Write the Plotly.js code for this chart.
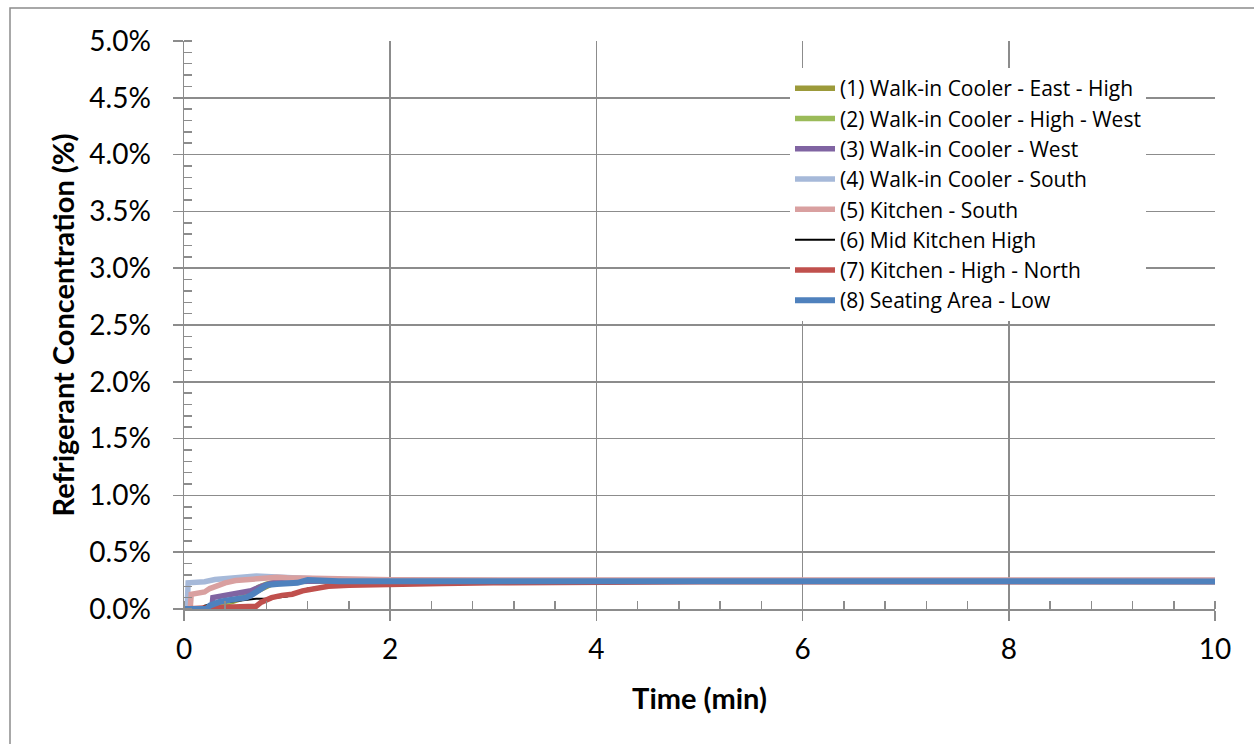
<!DOCTYPE html>
<html>
<head>
<meta charset="utf-8">
<script src="https://cdn.plot.ly/plotly-3.0.1.min.js"></script>
<style>
  html, body { margin: 0; padding: 0; background: #ffffff; }
  #chart { width: 1254px; height: 744px; }
</style>
</head>
<body>
<div id="chart"></div>
<script>
// ---- Data (time in minutes, concentration in %) ----
const seriesNames = [
  "(1) Walk-in Cooler - East - High",
  "(2) Walk-in Cooler - High - West",
  "(3) Walk-in Cooler - West",
  "(4) Walk-in Cooler - South",
  "(5) Kitchen - South",
  "(6) Mid Kitchen High",
  "(7) Kitchen - High - North",
  "(8) Seating Area - Low"
];

const t1 = [0, 0.30, 0.33, 0.45, 0.55, 0.65, 0.75, 0.85, 0.95, 1.1, 1.3, 1.6, 2, 3, 4, 5, 6, 7, 8, 9, 10];
const v1 = [0, 0, 0.04, 0.06, 0.09, 0.13, 0.18, 0.22, 0.24, 0.245, 0.25, 0.25, 0.25, 0.248, 0.247, 0.246, 0.245, 0.245, 0.245, 0.245, 0.245];

const t2 = [0, 0.30, 0.32, 0.45, 0.55, 0.65, 0.72, 0.80, 0.90, 1.0, 1.2, 1.5, 2, 3, 4, 5, 6, 7, 8, 9, 10];
const v2 = [0, 0, 0.05, 0.07, 0.10, 0.14, 0.19, 0.22, 0.24, 0.245, 0.25, 0.25, 0.25, 0.248, 0.247, 0.246, 0.245, 0.245, 0.245, 0.245, 0.245];

const t3 = [0, 0.27, 0.28, 0.35, 0.45, 0.55, 0.65, 0.75, 0.85, 0.95, 1.1, 1.3, 1.6, 2, 3, 4, 5, 6, 7, 8, 9, 10];
const v3 = [0, 0, 0.10, 0.11, 0.13, 0.14, 0.16, 0.20, 0.23, 0.24, 0.245, 0.25, 0.25, 0.25, 0.248, 0.247, 0.246, 0.245, 0.245, 0.245, 0.245, 0.245];

const t4 = [0, 0.03, 0.04, 0.10, 0.20, 0.30, 0.40, 0.50, 0.60, 0.70, 0.80, 0.90, 1.0, 1.2, 1.4, 1.7, 2, 3, 4, 5, 6, 7, 8, 9, 10];
const v4 = [0, 0, 0.23, 0.23, 0.24, 0.26, 0.27, 0.28, 0.29, 0.29, 0.285, 0.28, 0.275, 0.265, 0.26, 0.255, 0.25, 0.25, 0.25, 0.25, 0.25, 0.25, 0.25, 0.25, 0.25];

const t5 = [0, 0.06, 0.07, 0.15, 0.20, 0.25, 0.30, 0.40, 0.50, 0.60, 0.70, 0.80, 0.90, 1.0, 1.2, 1.5, 2, 3, 4, 5, 6, 7, 8, 9, 10];
const v5 = [0, 0, 0.13, 0.14, 0.15, 0.18, 0.20, 0.23, 0.25, 0.26, 0.27, 0.28, 0.28, 0.275, 0.27, 0.26, 0.258, 0.256, 0.255, 0.255, 0.255, 0.255, 0.255, 0.255, 0.255];

const t6 = [0, 0.15, 0.20, 0.30, 0.40, 0.50, 0.60, 0.70, 0.80, 0.90, 1.0, 1.1, 1.2, 1.4, 1.6, 1.8, 2, 2.5, 3, 4, 5, 6, 7, 8, 9, 10];
const v6 = [0, 0, 0.03, 0.05, 0.06, 0.07, 0.08, 0.09, 0.09, 0.10, 0.11, 0.15, 0.18, 0.20, 0.21, 0.22, 0.225, 0.23, 0.235, 0.24, 0.24, 0.24, 0.24, 0.24, 0.24, 0.24];

const t7 = [0, 0.20, 0.25, 0.40, 0.55, 0.70, 0.75, 0.85, 0.95, 1.05, 1.15, 1.25, 1.4, 1.6, 1.8, 2, 2.5, 3, 3.5, 4, 5, 6, 7, 8, 9, 10];
const v7 = [0, 0, 0.01, 0.015, 0.02, 0.025, 0.06, 0.10, 0.12, 0.13, 0.16, 0.18, 0.20, 0.21, 0.215, 0.22, 0.225, 0.23, 0.235, 0.24, 0.24, 0.24, 0.24, 0.24, 0.24, 0.24];

const t8 = [0, 0.22, 0.25, 0.30, 0.35, 0.45, 0.55, 0.60, 0.65, 0.70, 0.75, 0.80, 0.90, 1.0, 1.1, 1.2, 1.3, 1.5, 2, 3, 4, 5, 6, 7, 8, 9, 10];
const v8 = [0, 0, 0.03, 0.05, 0.065, 0.08, 0.09, 0.10, 0.12, 0.15, 0.19, 0.21, 0.22, 0.22, 0.23, 0.255, 0.25, 0.245, 0.245, 0.245, 0.244, 0.243, 0.243, 0.243, 0.243, 0.243, 0.243];

const xTickVals = [0, 2, 4, 6, 8, 10];
const yTickVals = [0, 0.5, 1.0, 1.5, 2.0, 2.5, 3.0, 3.5, 4.0, 4.5, 5.0];

const colors = ["#9c9a3a", "#9bbb59", "#8064a2", "#a6b9d9", "#d9a0a0", "#000000", "#c0504d", "#4f81bd"];
const widths = [5.5, 5.5, 5.5, 5.5, 5.5, 2, 5.5, 6];

const times = [t1, t2, t3, t4, t5, t6, t7, t8];
const vals = [v1, v2, v3, v4, v5, v6, v7, v8];

const traces = seriesNames.map((n, i) => ({
  type: "scatter",
  mode: "lines",
  name: n,
  x: times[i],
  y: vals[i],
  line: { color: colors[i], width: widths[i] }
}));

const FONT = "Lato, 'Open Sans', sans-serif";
const LEGFONT = "'Open Sans', Lato, sans-serif";
const grid = "#8c8c8c";

const L = 184, R = 1215, T = 41, B = 609, W = 1254, H = 744;
const px2paperX = p => (p - L) / (R - L);
const px2paperY = p => (B - p) / (B - T);

const layout = {
  width: W, height: H,
  margin: { l: L, r: W - R, t: T, b: H - B, pad: 0 },
  paper_bgcolor: "#ffffff",
  plot_bgcolor: "#ffffff",
  font: { family: FONT, color: "#000000" },
  showlegend: true,
  legend: {
    x: px2paperX(790), y: px2paperY(68), xanchor: "left", yanchor: "top",
    bgcolor: "#ffffff",
    font: { family: LEGFONT, size: 21, color: "#000000" },
    tracegroupgap: 0,
    itemwidth: 40
  },
  xaxis: {
    range: [0, 10],
    tickvals: xTickVals,
    ticktext: xTickVals.map(String),
    showgrid: true, gridcolor: grid, gridwidth: 1.5,
    showline: true, linecolor: grid, linewidth: 1.5,
    ticks: "outside", ticklen: 10, tickwidth: 1.5, tickcolor: grid,
    ticklabelstandoff: 5,
    tickfont: { family: FONT, size: 28, color: "#000000" },
    minor: { dtick: 0.4, ticks: "inside", ticklen: 8, tickwidth: 1.5, tickcolor: grid, showgrid: false },
    zeroline: false,
    title: { text: "<b>Time (min)</b>", font: { family: FONT, size: 29, color: "#000000" }, standoff: 24 }
  },
  yaxis: {
    range: [0, 5],
    tickvals: yTickVals,
    ticktext: yTickVals.map(v => v.toFixed(1) + "%"),
    showgrid: true, gridcolor: grid, gridwidth: 1.5,
    showline: true, linecolor: grid, linewidth: 1.5,
    ticks: "outside", ticklen: 10, tickwidth: 1.5, tickcolor: grid,
    ticklabelstandoff: 16,
    tickfont: { family: FONT, size: 28, color: "#000000" },
    minor: { dtick: 0.1, ticks: "inside", ticklen: 8, tickwidth: 1.5, tickcolor: grid, showgrid: false },
    zeroline: false,
    title: { text: "<b>Refrigerant Concentration (%)</b>", font: { family: FONT, size: 29, color: "#000000" }, standoff: 6 }
  },
  shapes: [{
    type: "rect", xref: "paper", yref: "paper", layer: "below",
    x0: px2paperX(10), x1: px2paperX(1262),
    y0: px2paperY(760), y1: px2paperY(8),
    line: { color: "#8c8c8c", width: 1.5 }, fillcolor: "rgba(0,0,0,0)"
  }]
};

Plotly.newPlot("chart", traces, layout, { staticPlot: true, displayModeBar: false });
</script>
</body>
</html>
